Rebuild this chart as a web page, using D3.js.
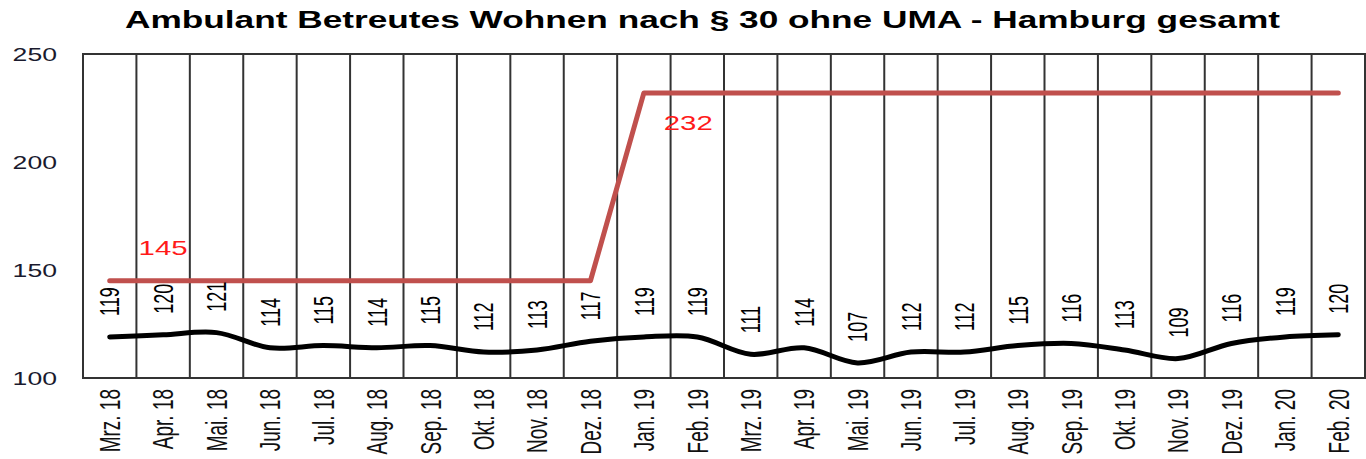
<!DOCTYPE html>
<html>
<head>
<meta charset="utf-8">
<script src="https://cdn.jsdelivr.net/npm/d3@7"></script>
<style>
  body { margin: 0; background: #fff; }
  svg { display: block; font-family: Arial, "Liberation Sans", sans-serif; }
</style>
</head>
<body>
<svg width="1366" height="459"></svg>
<script>
// Daten
var months = ["Mrz. 18","Apr. 18","Mai. 18","Jun. 18","Jul. 18","Aug. 18","Sep. 18","Okt. 18","Nov. 18","Dez. 18",
              "Jan. 19","Feb. 19","Mrz. 19","Apr. 19","Mai. 19","Jun. 19","Jul. 19","Aug. 19","Sep. 19","Okt. 19",
              "Nov. 19","Dez. 19","Jan. 20","Feb. 20"];
var betreut = [119,120,121,114,115,114,115,112,113,117,119,119,111,114,107,112,112,115,116,113,109,116,119,120];
var plaetze = [145,145,145,145,145,145,145,145,145,145,232,232,232,232,232,232,232,232,232,232,232,232,232,232];
var yTicks = [100,150,200,250];
var title = "Ambulant Betreutes Wohnen nach § 30 ohne UMA - Hamburg gesamt";

var svg = d3.select("svg");
var pLeft = 83, pRight = 1365, pTop = 54, pBottom = 378;
var sx = 1.4;  // Text horizontal gestreckt wie im Original
var sxr = 1.55; // gedrehte Texte

var x = d3.scaleBand().domain(months).range([pLeft, pRight]).padding(0);
var y = d3.scaleLinear().domain([100, 250]).range([pBottom, pTop]);
function cx(m) { return x(m) + x.bandwidth() / 2; }

// Titel
svg.append("text")
  .attr("x", 125).attr("y", 28)
  .attr("textLength", 1155).attr("lengthAdjust", "spacingAndGlyphs")
  .attr("font-size", 24).attr("font-weight", "bold").attr("fill", "#000")
  .text(title);

// senkrechte Linien zwischen den Monaten
svg.append("g").selectAll("line")
  .data(months.slice(1))
  .enter().append("line")
  .attr("x1", function(d) { return x(d); }).attr("x2", function(d) { return x(d); })
  .attr("y1", pTop).attr("y2", pBottom)
  .attr("stroke", "#333").attr("stroke-width", 2);

// Rahmen
svg.append("rect")
  .attr("x", pLeft).attr("y", pTop).attr("width", pRight - pLeft).attr("height", pBottom - pTop)
  .attr("fill", "none").attr("stroke", "#333").attr("stroke-width", 2);

// y-Achse
var yAxis = svg.append("g").attr("transform", "translate(" + pLeft + ",0)")
  .call(d3.axisLeft(y).tickValues(yTicks).tickSize(0));
yAxis.select(".domain").remove();
yAxis.selectAll("text")
  .attr("x", 0).attr("dy", "0.35em")
  .attr("transform", "translate(-26,0) scale(" + sx + ",1)")
  .attr("text-anchor", "end")
  .attr("font-size", 19).attr("font-family", "Arial, 'Liberation Sans', sans-serif")
  .attr("fill", "#1a1a2e");

// x-Achse
var xAxis = svg.append("g").attr("transform", "translate(0," + pBottom + ")")
  .call(d3.axisBottom(x).tickSize(0));
xAxis.select(".domain").remove();
xAxis.selectAll("text")
  .attr("x", 0).attr("y", 0).attr("dy", "0.35em")
  .attr("transform", "translate(0,11) scale(" + sxr + ",1) rotate(-90)")
  .attr("text-anchor", "end")
  .attr("font-size", 19).attr("font-family", "Arial, 'Liberation Sans', sans-serif")
  .attr("fill", "#111");

// rote Linie (Plätze)
var redLine = d3.line()
  .x(function(d, i) { return cx(months[i]); })
  .y(function(d) { return y(d); });
svg.append("path")
  .datum(plaetze)
  .attr("d", redLine)
  .attr("fill", "none").attr("stroke", "#c0504d").attr("stroke-width", 5)
  .attr("stroke-linejoin", "round").attr("stroke-linecap", "round");

// schwarze Linie (Betreute), geglättet
var blackLine = d3.line()
  .x(function(d, i) { return cx(months[i]); })
  .y(function(d) { return y(d); })
  .curve(d3.curveCatmullRom.alpha(0.5));
svg.append("path")
  .datum(betreut)
  .attr("d", blackLine)
  .attr("fill", "none").attr("stroke", "#000").attr("stroke-width", 5)
  .attr("stroke-linecap", "round");

// Werte der schwarzen Linie
svg.append("g").selectAll("text")
  .data(betreut)
  .enter().append("text")
  .attr("transform", function(d, i) {
    return "translate(" + cx(months[i]) + "," + (y(d) - 21) + ") scale(" + sxr + ",1) rotate(-90)";
  })
  .attr("dy", "0.35em")
  .attr("text-anchor", "start")
  .attr("font-size", 18).attr("fill", "#000")
  .text(function(d) { return d; });

// Beschriftung der roten Linie
svg.append("text")
  .attr("transform", "translate(" + cx(months[1]) + "," + (y(plaetze[1]) - 26) + ") scale(" + sx + ",1)")
  .attr("text-anchor", "middle")
  .attr("font-size", 21).attr("fill", "#ff1a1a")
  .text(plaetze[1]);
svg.append("text")
  .attr("transform", "translate(" + (cx(months[11]) - 9) + "," + (y(plaetze[11]) + 37) + ") scale(" + sx + ",1)")
  .attr("text-anchor", "middle")
  .attr("font-size", 21).attr("fill", "#ff1a1a")
  .text(plaetze[11]);
</script>
</body>
</html>
